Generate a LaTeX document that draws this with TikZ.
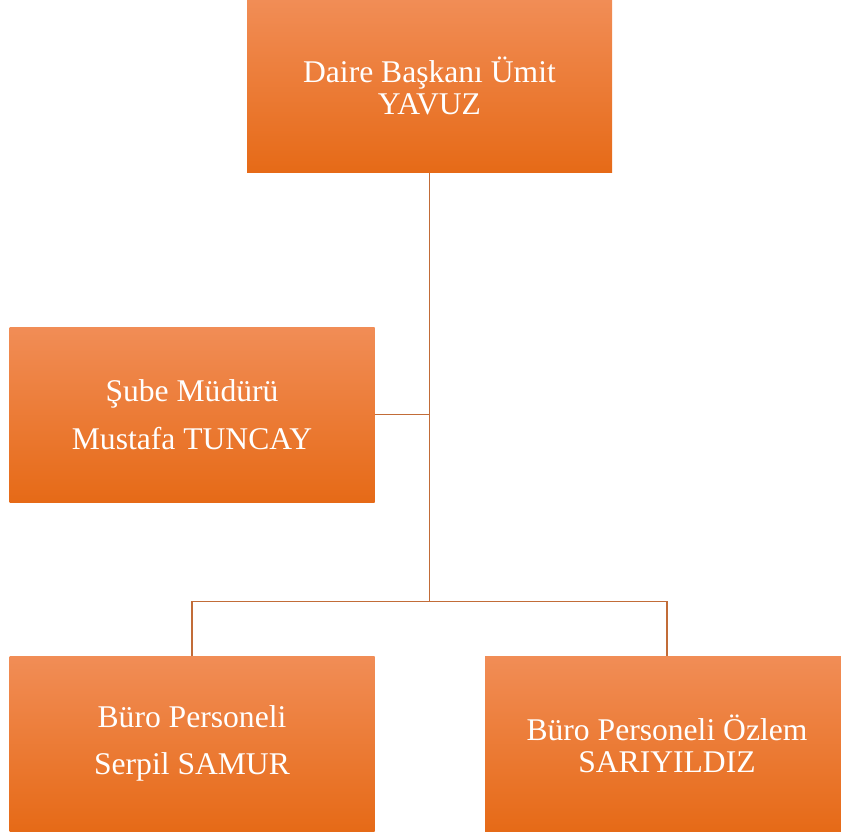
\documentclass[tikz,border=0pt]{standalone}
\usepackage{fontspec}
\setmainfont{Liberation Serif}
\definecolor{orgtop}{HTML}{F18D56}
\definecolor{orgmid}{HTML}{F47C2B}
\definecolor{orgbot}{HTML}{E66A17}
\definecolor{linec}{HTML}{C26C38}
\begin{document}
\begin{tikzpicture}[x=1pt,y=-1pt,
  box/.style={shading=axis, top color=orgtop, middle color=orgmid, bottom color=orgbot,
    minimum width=365pt, minimum height=174pt, inner sep=0pt, text=white, align=center},
  tight/.style={font=\fontsize{31.6}{32}\selectfont},
  loose/.style={font=\fontsize{31.6}{47.4}\selectfont},
  conn/.style={draw=linec, line width=1.6pt}]
\useasboundingbox (0,0) rectangle (841,838);
\clip (0,0) rectangle (841,838);
\node[box, tight, minimum height=173pt] (top) at (429.5,86.3) {Daire Başkanı Ümit\\YAVUZ};
\node[box, loose, minimum height=175pt] (sube) at (192,414.5) {Şube Müdürü\\Mustafa TUNCAY};
\node[box, loose, minimum height=175pt] (b1) at (192,743.5) {Büro Personeli\\Serpil SAMUR};
\node[box, tight, minimum height=175pt, minimum width=364pt] (b2) at (667,743.5) {Büro Personeli Özlem\\SARIYILDIZ};
\coordinate (j1) at (429.5,414.5);
\coordinate (j2) at (429.5,601.5);
\draw[conn] (top.south) -- (j2);
\draw[conn] (sube.east) -- (j1);
\draw[conn] (b1.north) |- (j2) -| (b2.north);
\end{tikzpicture}
\end{document}
